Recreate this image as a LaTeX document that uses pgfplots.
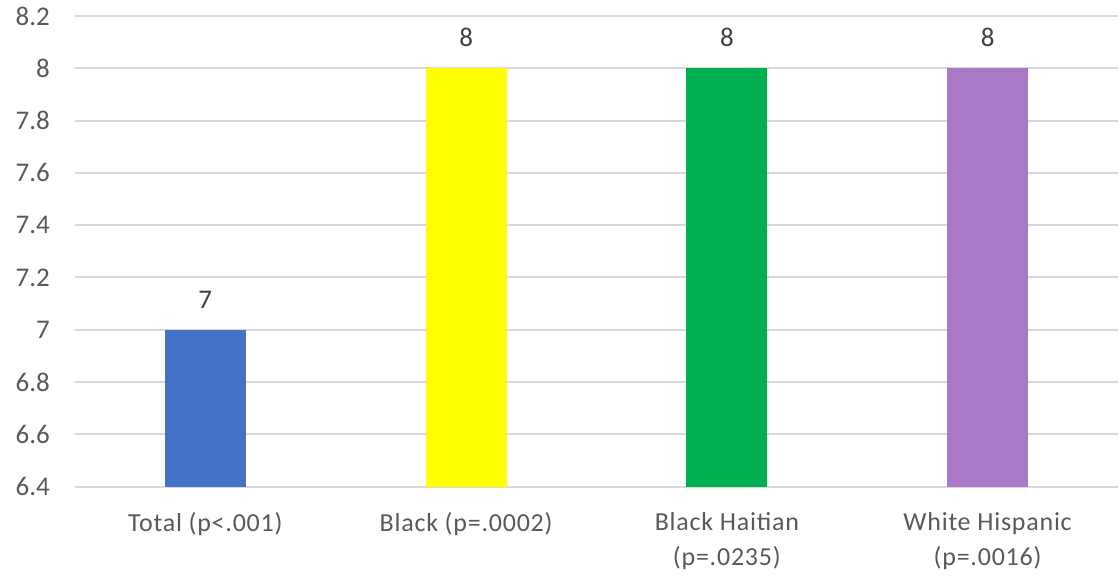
\documentclass[border=0pt]{standalone}
\usepackage{fontspec}
\setmainfont{Carlito}
\newfontfamily\catfont[LetterSpace=3]{Carlito}
\usepackage{pgfplots}
\pgfplotsset{compat=1.18}
\definecolor{cblue}{HTML}{4472C4}
\definecolor{cyellow}{HTML}{FFFF00}
\definecolor{cgreen}{HTML}{00B050}
\definecolor{cpurple}{HTML}{A978C6}
\definecolor{gridc}{HTML}{D9D9D9}
\definecolor{tickc}{HTML}{595959}
\definecolor{labc}{HTML}{404040}
\begin{document}
\begin{tikzpicture}
\begin{axis}[
  scale only axis,
  width=522pt, height=235.5pt,
  xmin=-0.5, xmax=3.5,
  ymin=6.4, ymax=8.2,
  ytick={6.4,6.6,...,8.21},
  xtick={0,1,2,3},
  xticklabels={{Total (p<.001)},{Black (p=.0002)},{Black Haitian\\(p=.0235)},{White Hispanic\\(p=.0016)}},
  axis line style={draw=none},
  major tick length=0pt,
  ymajorgrids,
  grid style={gridc, line width=1pt},
  /pgf/number format/assume math mode=true,
  /pgf/number format/fixed,
  tick label style={font=\fontsize{13.5}{16}\selectfont, text=tickc},
  yticklabel style={xshift=-9pt},
  xticklabel style={align=center, yshift=-9.5pt, font=\catfont\fontsize{13}{17.5}\selectfont},
  ybar, bar width=0.31,
  bar shift=0pt,
  nodes near coords,
  every node near coord/.append style={font=\fontsize{13.5}{16}\selectfont, text=labc, inner sep=0pt, yshift=10.5pt, anchor=south},
  clip=false,
]
\addplot[fill=cblue, draw=none] coordinates {(0,7)};
\addplot[fill=cyellow, draw=none] coordinates {(1,8)};
\addplot[fill=cgreen, draw=none] coordinates {(2,8)};
\addplot[fill=cpurple, draw=none] coordinates {(3,8)};
\end{axis}
\path (current axis.south west) ++(-37.5pt,-45.5pt) coordinate (bl);
\path (current axis.north east) ++(0pt,6.5pt) coordinate (tr);
\path (bl) rectangle (tr);
\end{tikzpicture}
\end{document}
